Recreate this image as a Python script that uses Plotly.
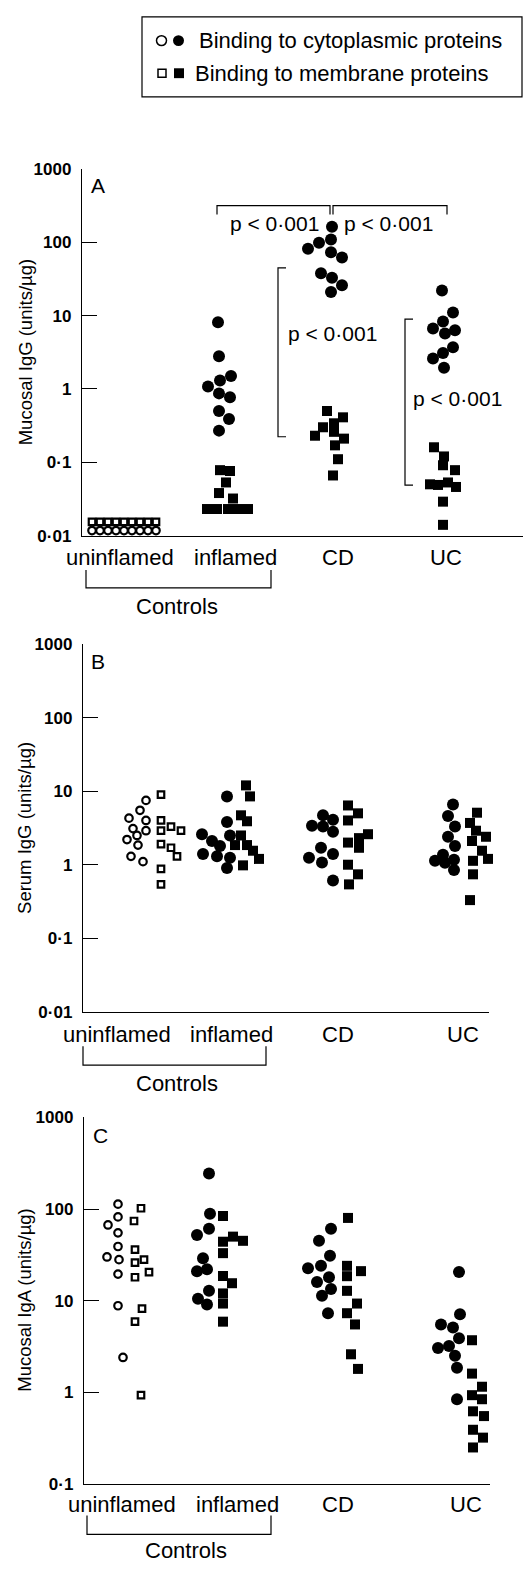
import plotly.graph_objects as go

W, H = 523, 1569
FONT = "Liberation Sans, Arial, Helvetica, sans-serif"

# ---------------- DATA ----------------
groups = ["uninflamed", "inflamed", "CD", "UC"]
tick_vals = [0.01, 0.1, 1, 10, 100, 1000]
tick_text = ["0·01", "0·1", "1", "10", "100", "1000"]

# Panel A: Mucosal IgG
A_unin_circ = [0.0117] * 9
A_unin_circ_dx = [-32, -24, -16, -8, 0, 8, 16, 24, 32]
A_unin_sq = [0.0154] * 9
A_unin_sq_dx = [-32, -24, -16, -8, 0, 8, 16, 24, 32]
A_inf_circ = [8.1, 2.8, 1.5, 1.3, 1.08, 0.87, 0.77, 0.5, 0.39, 0.27]
A_inf_circ_dx = [-1, 0, 12, 1, -11, 0, 11, 0, 10, 0]
A_inf_sq = [0.078, 0.076, 0.053, 0.038, 0.032, 0.023, 0.023, 0.023, 0.023, 0.023]
A_inf_sq_dx = [-7, 3, -1, -8, 6, -20, -10, 1, 11, 21]
A_cd_circ = [163, 109, 99, 82, 73, 62, 38, 33, 26, 21]
A_cd_circ_dx = [1, 0, -12, -23, 0, 11, -10, 1, 11, 0]
A_cd_sq = [0.50, 0.41, 0.34, 0.30, 0.26, 0.23, 0.21, 0.17, 0.11, 0.066]
A_cd_sq_dx = [-6, 10, 1, -10, 1, -18, 11, 2, 5, 0]
A_uc_circ = [22, 11, 8.3, 6.7, 6.3, 5.7, 3.7, 3.1, 2.6, 1.95]
A_uc_circ_dx = [-1, 10, 0, -10, 12, 2, 10, 0, -10, 1]
A_uc_sq = [0.16, 0.12, 0.091, 0.078, 0.050, 0.049, 0.053, 0.046, 0.029, 0.014]
A_uc_sq_dx = [-9, 1, 0, 12, -13, -5, 5, 13, 0, 0]

# Panel B: Serum IgG
B_unin_circ = [7.5, 5.5, 4.3, 4.0, 3.1, 2.9, 2.5, 2.2, 1.85, 1.3, 1.1]
B_unin_circ_dx = [9, 3, -8, 9, -4, 9, 0, -10, 1, -6, 6]
B_unin_sq = [9.0, 4.0, 3.3, 2.9, 2.9, 1.9, 1.7, 1.3, 0.88, 0.54]
B_unin_sq_dx = [-4, -4, 6, -4, 16, -4, 6, 12, -4, -4]
B_inf_circ = [8.5, 3.8, 2.6, 2.5, 2.1, 1.8, 1.4, 1.3, 1.24, 0.9]
B_inf_circ_dx = [7, 7, -18, 10, -8, 0, -17, -3, 10, 7]
B_inf_sq = [12, 8.5, 4.7, 3.9, 2.5, 1.85, 1.85, 1.55, 1.2, 0.98]
B_inf_sq_dx = [1, 5, -4, 2, -4, -10, 2, 8, 14, -2]
B_cd_circ = [4.7, 4.1, 3.4, 3.3, 2.8, 1.7, 1.24, 1.4, 1.07, 0.61]
B_cd_circ_dx = [0, 10, -11, 0, 10, -2, -14, 10, -1, 10]
B_cd_sq = [6.4, 5.0, 4.0, 2.6, 2.3, 2.0, 1.7, 1.0, 0.74, 0.54]
B_cd_sq_dx = [-4, 6, -4, 16, 7, -4, 7, -4, 6, -3]
B_uc_circ = [6.6, 4.6, 3.3, 2.4, 1.8, 1.37, 1.13, 1.06, 1.17, 0.85]
B_uc_circ_dx = [3, -2, 5, -2, 5, -7, -15, -5, 4, 4]
B_uc_sq = [5.1, 3.7, 2.9, 2.4, 2.1, 1.55, 1.2, 1.13, 0.74, 0.33]
B_uc_sq_dx = [0, -7, -1, 9, -5, 5, 11, -4, -4, -7]

# Panel C: Mucosal IgA
C_unin_circ = [113, 82, 67, 55, 39, 30, 28, 19.5, 8.8, 2.4]
C_unin_circ_dx = [0, 0, -10, 0, 0, -11, 1, 0, 0, 5]
C_unin_sq = [102, 74, 36, 26, 28, 20.5, 18, 8.2, 5.9, 0.93]
C_unin_sq_dx = [3, -4, -3, -3, 6, 11, -3, 4, -3, 3]
C_inf_circ = [245, 89, 61, 52, 29, 21, 22, 12.8, 10.5, 9.1]
C_inf_circ_dx = [4, 5, 4, -8, -2, -8, 2, 4, -7, 2]
C_inf_sq = [84, 50, 45, 44, 33, 18.6, 15.5, 12, 9.3, 5.9]
C_inf_sq_dx = [-5, 5, 15, -5, -5, -5, 4, -5, -5, -5]
C_cd_circ = [61, 45, 31, 22.6, 24, 18, 16, 13.4, 11.3, 7.3]
C_cd_circ_dx = [9, -3, 8, -14, -1, 7, -5, 9, 0, 6]
C_cd_sq = [80, 24, 21, 18.5, 12.8, 9.3, 7.3, 5.5, 2.6, 1.8]
C_cd_sq_dx = [-2, -3, 11, -3, -3, 7, -3, 5, 1, 8]
C_uc_circ = [20.5, 7.1, 5.5, 5.1, 3.9, 3.05, 3.2, 2.5, 1.85, 0.84]
C_uc_circ_dx = [9, 10, -9, 3, 9, -12, -1, 5, 7, 7]
C_uc_sq = [3.7, 1.6, 1.15, 0.93, 0.84, 0.62, 0.55, 0.39, 0.32, 0.25]
C_uc_sq_dx = [-4, -4, 6, -4, 6, -3, 8, -3, 7, -3]

# --------------- layout geometry (pixels) ----------------
panels = {
    "A": dict(x0=82, x1=523, ytop=162, ybot=533, yr=[-2, 3],
              centers_c=[124, 219, 331, 443], centers_s=[124, 227, 333, 443],
              title="Mucosal IgG (units/µg)",
              cat_x=[120, 235, 338, 446], cat_y=555,
              ctrl=(86, 271, 568, 586), ctrl_txt=(177, 605), letter=(98, 179)),
    "B": dict(x0=83, x1=489, ytop=643, ybot=1015, yr=[-2, 3],
              centers_c=[137, 220, 323, 450], centers_s=[165, 245, 352, 477],
              title="Serum IgG (units/µg)",
              cat_x=[117, 231, 338, 463], cat_y=1038,
              ctrl=(83, 266, 1050, 1069), ctrl_txt=(177, 1088), letter=(98, 660)),
    "C": dict(x0=84, x1=490, ytop=1122, ybot=1493, yr=[-1, 3],
              centers_c=[118, 205, 322, 450], centers_s=[138, 228, 350, 476],
              title="Mucosal IgA (units/µg)",
              cat_x=[122, 237, 338, 466], cat_y=1514,
              ctrl=(87, 271, 1525, 1544), ctrl_txt=(186, 1560), letter=(100, 1140)),
}

data = {
    "A": [(A_unin_circ, A_unin_circ_dx, A_unin_sq, A_unin_sq_dx),
          (A_inf_circ, A_inf_circ_dx, A_inf_sq, A_inf_sq_dx),
          (A_cd_circ, A_cd_circ_dx, A_cd_sq, A_cd_sq_dx),
          (A_uc_circ, A_uc_circ_dx, A_uc_sq, A_uc_sq_dx)],
    "B": [(B_unin_circ, B_unin_circ_dx, B_unin_sq, B_unin_sq_dx),
          (B_inf_circ, B_inf_circ_dx, B_inf_sq, B_inf_sq_dx),
          (B_cd_circ, B_cd_circ_dx, B_cd_sq, B_cd_sq_dx),
          (B_uc_circ, B_uc_circ_dx, B_uc_sq, B_uc_sq_dx)],
    "C": [(C_unin_circ, C_unin_circ_dx, C_unin_sq, C_unin_sq_dx),
          (C_inf_circ, C_inf_circ_dx, C_inf_sq, C_inf_sq_dx),
          (C_cd_circ, C_cd_circ_dx, C_cd_sq, C_cd_sq_dx),
          (C_uc_circ, C_uc_circ_dx, C_uc_sq, C_uc_sq_dx)],
}


def px(x):
    return x / W


def py(y):
    return 1 - y / H


fig = go.Figure()
layout = dict(width=W, height=H, margin=dict(l=0, r=0, t=0, b=0),
              paper_bgcolor="white", plot_bgcolor="white", showlegend=False,
              font=dict(family=FONT, color="black"))
annotations = []
shapes = []

LW = 1.4
LBL = 22

for i, key in enumerate(["A", "B", "C"]):
    p = panels[key]
    sfx = "" if i == 0 else str(i + 1)
    xa, ya = "x" + sfx, "y" + sfx
    for gi, (cv, cdx, sv, sdx) in enumerate(data[key]):
        open_m = gi == 0
        cx = [p["centers_c"][gi] + d for d in cdx]
        sx = [p["centers_s"][gi] + d for d in sdx]
        if open_m:
            cm = dict(symbol="circle-open", size=7.5, color="black", line=dict(width=2.2))
            sm = dict(symbol="square-open", size=6.5, color="black", line=dict(width=2.2))
        else:
            cm = dict(symbol="circle", size=12, color="black", line=dict(width=0))
            sm = dict(symbol="square", size=10, color="black", line=dict(width=0))
        fig.add_trace(go.Scatter(x=cx, y=cv, mode="markers", marker=cm,
                                 xaxis=xa, yaxis=ya, cliponaxis=False,
                                 name=groups[gi] + " cytoplasmic"))
        fig.add_trace(go.Scatter(x=sx, y=sv, mode="markers", marker=sm,
                                 xaxis=xa, yaxis=ya, cliponaxis=False,
                                 name=groups[gi] + " membrane"))
    layout["xaxis" + sfx] = dict(domain=[px(p["x0"]), px(p["x1"])], range=[p["x0"], p["x1"]],
                                 anchor=ya, showline=True, linecolor="black", linewidth=LW,
                                 showgrid=False, zeroline=False, showticklabels=False, ticks="")
    tv = [t for t in tick_vals if t >= 10 ** p["yr"][0]]
    tt = ["<b>" + tick_text[tick_vals.index(t)] + "</b>" for t in tv]
    layout["yaxis" + sfx] = dict(domain=[py(p["ybot"]), py(p["ytop"])], type="log", range=p["yr"],
                                 anchor=xa, showline=True, linecolor="black", linewidth=LW,
                                 showgrid=False, zeroline=False, ticks="inside", ticklen=15,
                                 tickwidth=LW, tickcolor="black", tickvals=tv, ticktext=tt,
                                 tickfont=dict(size=17, family=FONT, color="black"),
                                 ticklabelstandoff=6)
    # y title
    annotations.append(dict(x=px(25), y=py((p["ytop"] + p["ybot"]) / 2), xref="paper", yref="paper",
                            text=p["title"], textangle=-90, showarrow=False,
                            font=dict(size=18.5, family=FONT), xanchor="center", yanchor="middle"))
    # panel letter
    annotations.append(dict(x=px(p["letter"][0]), y=py(p["letter"][1]), xref="paper", yref="paper",
                            text=key, showarrow=False, font=dict(size=21, family=FONT),
                            xanchor="center", yanchor="middle"))
    # category labels
    for gi, g in enumerate(groups):
        annotations.append(dict(x=px(p["cat_x"][gi]), y=py(p["cat_y"]), xref="paper", yref="paper",
                                text=g, showarrow=False, font=dict(size=LBL, family=FONT),
                                xanchor="center", yanchor="middle"))
    # Controls bracket
    bx0, bx1, bt, bb = p["ctrl"]
    shapes.append(dict(type="path", xref="paper", yref="paper",
                       path=f"M {px(bx0)},{py(bt)} L {px(bx0)},{py(bb)} L {px(bx1)},{py(bb)} L {px(bx1)},{py(bt)}",
                       line=dict(color="black", width=1.2)))
    annotations.append(dict(x=px(p["ctrl_txt"][0]), y=py(p["ctrl_txt"][1]), xref="paper", yref="paper",
                            text="Controls", showarrow=False, font=dict(size=LBL, family=FONT),
                            xanchor="center", yanchor="middle"))

# significance brackets in panel A
sig_lines = [
    ("h", 217, 330, 199, 208),
    ("h", 333, 447, 199, 208),
    ("v", 278, 262, 433, 286),
    ("v", 405, 314, 482, 413),
]
for s in sig_lines:
    if s[0] == "h":
        _, a, b, y, yt = s
        path = f"M {px(a)},{py(yt)} L {px(a)},{py(y)} L {px(b)},{py(y)} L {px(b)},{py(yt)}"
    else:
        _, x, y0, y1, xt = s
        path = f"M {px(xt)},{py(y0)} L {px(x)},{py(y0)} L {px(x)},{py(y1)} L {px(xt)},{py(y1)}"
    shapes.append(dict(type="path", xref="paper", yref="paper", path=path,
                       line=dict(color="black", width=1.2)))

for (tx, ty) in [(274, 217), (388, 217), (332, 328), (457, 394)]:
    annotations.append(dict(x=px(tx), y=py(ty), xref="paper", yref="paper",
                            text="p < 0·001", showarrow=False, font=dict(size=21, family=FONT),
                            xanchor="center", yanchor="middle"))

# legend box and symbols
shapes.append(dict(type="rect", xref="paper", yref="paper", x0=px(142), x1=px(522),
                   y0=py(89), y1=py(8), line=dict(color="black", width=1.2)))
# open circle, filled circle
shapes.append(dict(type="circle", xref="paper", yref="paper", x0=px(156.5), x1=px(166.5),
                   y0=py(37), y1=py(27), line=dict(color="black", width=1.5)))
shapes.append(dict(type="circle", xref="paper", yref="paper", x0=px(173), x1=px(184),
                   y0=py(37.5), y1=py(26.5), line=dict(color="black", width=0), fillcolor="black"))
# open square, filled square
shapes.append(dict(type="rect", xref="paper", yref="paper", x0=px(158), x1=px(166),
                   y0=py(69), y1=py(61), line=dict(color="black", width=1.5)))
shapes.append(dict(type="rect", xref="paper", yref="paper", x0=px(174), x1=px(184),
                   y0=py(70), y1=py(60), line=dict(color="black", width=0), fillcolor="black"))
annotations.append(dict(x=px(197), y=py(32), xref="paper", yref="paper",
                        text="Binding to cytoplasmic proteins", showarrow=False,
                        font=dict(size=22, family=FONT), xanchor="left", yanchor="middle"))
annotations.append(dict(x=px(193), y=py(65), xref="paper", yref="paper",
                        text="Binding to membrane proteins", showarrow=False,
                        font=dict(size=22, family=FONT), xanchor="left", yanchor="middle"))

layout["annotations"] = annotations
layout["shapes"] = shapes
fig.update_layout(**layout)

fig.write_html("out.html", config={"displayModeBar": False},
               post_script="document.body.style.margin='0';document.body.style.overflow='hidden';")
